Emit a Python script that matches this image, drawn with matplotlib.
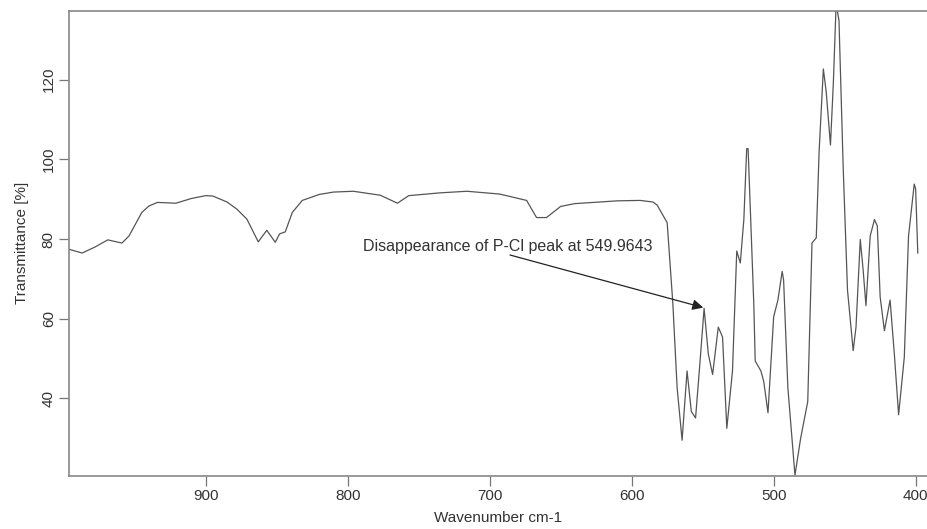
# -*- coding: utf-8 -*-
"""FTIR spectrum with the P-Cl peak annotation (recreated chart)."""
import matplotlib
matplotlib.use("Agg")
import matplotlib.pyplot as plt

plt.rcParams["font.family"] = ["Liberation Sans", "DejaVu Sans"]

# wavenumber (cm-1) and transmittance (%)
wavenumber = [997, 987, 978, 969, 959, 954, 945, 940, 934, 921,
              910, 900, 895, 885, 878, 871, 863, 857, 851, 848,
              844, 839, 832, 820, 810, 796, 777, 765, 757, 735,
              716, 693, 674, 667, 660, 650, 640, 627, 610, 594,
              585, 582, 575, 571, 568, 564.5, 561, 558, 555,
              552, 549, 546, 543, 539, 536, 533, 529, 526, 523.5,
              521, 519, 518, 514, 513, 509, 507, 504, 500, 497,
              494, 493, 490, 485, 481, 476, 473, 470, 468, 465,
              463, 460, 458, 456, 454, 451, 448, 444, 442, 439,
              437, 435, 432, 429, 427, 425, 422, 418, 415, 412,
              408, 405, 401, 400, 398.5]
transmittance = [77.5, 76.5, 78.0, 79.8, 79.0, 80.8, 86.7, 88.3, 89.2, 89.0,
                 90.2, 90.9, 90.8, 89.3, 87.5, 85.0, 79.3, 82.2, 79.2, 81.3,
                 81.8, 86.7, 89.7, 91.2, 91.8, 92.0, 91.0, 89.0, 90.9, 91.6,
                 92.0, 91.3, 89.7, 85.4, 85.4, 88.2, 88.9, 89.2, 89.6, 89.7,
                 89.3, 88.5, 84.1, 63.8, 42.7, 29.5, 46.9, 36.7, 35.1,
                 48.6, 62.6, 51.1, 46.0, 57.9, 55.4, 32.5, 46.9, 77.0, 74.0,
                 84.9, 102.7, 102.7, 63.8, 49.4, 46.9, 44.3, 36.4, 60.5, 64.7,
                 71.9, 69.7, 42.7, 20.7, 30.0, 39.2, 79.0, 80.3, 101.9, 122.7,
                 117.0, 103.6, 118.9, 139.0, 134.9, 97.6, 67.2, 52.0, 57.9, 79.9,
                 72.3, 63.3, 80.8, 84.9, 83.3, 65.5, 57.0, 64.7, 51.1, 35.9,
                 50.3, 80.8, 93.8, 92.6, 76.5]

x_ticks = [900, 800, 700, 600, 500, 400]
y_ticks = [40, 60, 80, 100, 120]

note = "Disappearance of P-Cl peak at 549.9643"
note_pos = (789.4, 78.2)
arrow_from = (685.7, 76.0)
arrow_to = (549.6, 62.8)

fig = plt.figure(figsize=(9.28, 5.29), dpi=100)
ax = fig.add_axes([69 / 928, 1 - 475.7 / 529, 1 - 69 / 928, (475.7 - 11) / 529])

ax.plot(wavenumber, transmittance, color="#555555", lw=0.9)
ax.set_xlim(996.3, 391.3)
ax.set_ylim(20.6, 137.25)

ax.set_xticks(x_ticks)
ax.set_yticks(y_ticks)
ax.tick_params(direction="out", length=7, width=0.9, color="#777777",
               labelsize=11, labelcolor="#333333", pad=2.5)
for lab in ax.get_yticklabels():
    lab.set_rotation(90)
    lab.set_va("center")
ax.spines["right"].set_visible(False)
for side in ("left", "top", "bottom"):
    ax.spines[side].set_color("#888888")
    ax.spines[side].set_linewidth(1.2)

ax.set_xlabel("Wavenumber cm-1", fontsize=11, color="#333333", labelpad=6)
ax.set_ylabel("Transmittance [%]", fontsize=11, color="#333333", labelpad=9)

ax.text(*note_pos, note, fontsize=11.5, color="#333333", ha="left", va="center")
ax.annotate("", xy=arrow_to, xytext=arrow_from,
            arrowprops=dict(arrowstyle="-|>", color="#222222", lw=0.9,
                            mutation_scale=16, shrinkA=0, shrinkB=0))

fig.savefig("out.png", dpi=100)
